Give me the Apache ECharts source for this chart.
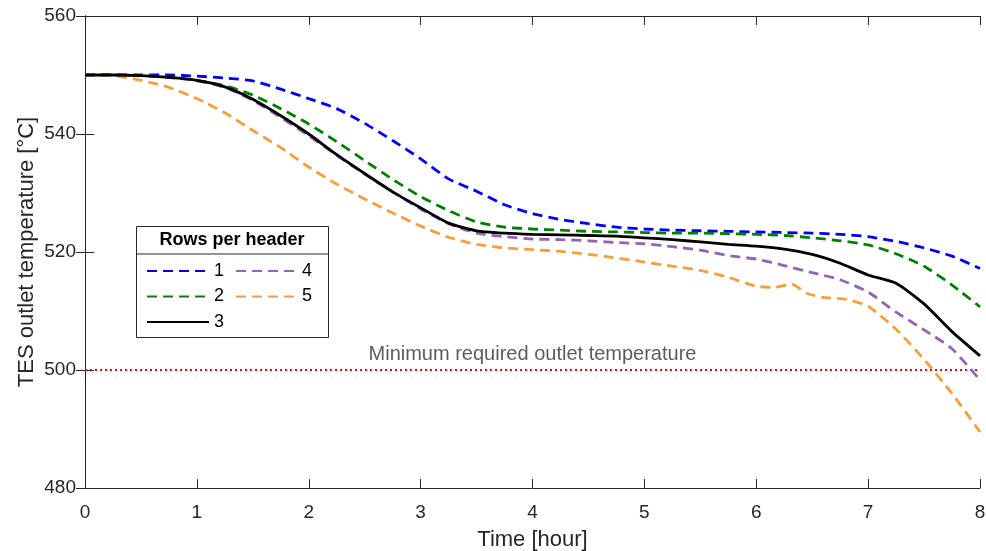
<!DOCTYPE html>
<html>
<head>
<meta charset="utf-8">
<script src="https://cdn.jsdelivr.net/npm/echarts@6/dist/echarts.min.js"></script>
<style>
html,body{margin:0;padding:0;background:#fff;}
#chart{width:986px;height:551px;}
</style>
</head>
<body>
<div id="chart"></div>
<script>
// ---- data ----
var time = [0,0.25,0.5,0.75,1,1.25,1.5,1.75,2,2.25,2.5,2.75,3,3.25,3.5,3.75,4,4.25,4.5,4.75,5,5.25,5.5,5.75,6,6.25,6.5,6.75,7,7.25,7.5,7.75,8];
var rows1 = [550,550,550,550,549.8,549.5,549.0,547.6,546.0,544.3,541.8,538.9,535.8,532.4,530.3,528.0,526.5,525.5,524.8,524.2,523.9,523.7,523.6,523.5,523.4,523.3,523.2,523.0,522.6,521.8,520.7,519.3,517.2];
var rows2 = [550,550,549.9,549.6,549.1,548.2,546.6,544.3,541.7,538.7,535.5,532.3,529.4,527.0,525.1,524.2,523.9,523.7,523.5,523.4,523.3,523.2,523.2,523.1,523.0,522.8,522.4,521.9,521.2,519.7,517.6,514.4,510.7];
var rows3 = [550,550,549.9,549.6,549.1,548.0,545.9,543.1,540.0,536.5,533.3,530.2,527.5,524.9,523.6,523.2,523.0,522.9,522.8,522.7,522.4,522.1,521.7,521.3,521.0,520.5,519.6,518.1,516.1,514.7,511.2,506.5,502.4];
var rows4 = [550,550,549.9,549.6,549.0,547.9,545.7,542.8,539.7,536.4,533.2,530.2,527.3,524.8,523.2,522.6,522.2,522.1,521.9,521.6,521.4,520.9,520.3,519.4,518.8,517.7,516.5,515.3,513.2,509.8,506.8,503.6,498.3];
var time5 = [0,0.25,0.5,0.75,1,1.25,1.5,1.75,2,2.25,2.5,2.75,3,3.25,3.5,3.75,4,4.25,4.5,4.75,5,5.25,5.5,5.75,6,6.15,6.32,6.45,6.6,6.8,7,7.25,7.5,7.75,8];
var rows5 = [550,549.9,549.1,547.9,546.0,543.6,540.6,537.7,534.4,531.5,529.0,526.6,524.4,522.5,521.3,520.7,520.4,520.1,519.6,519.0,518.3,517.6,516.9,515.7,514.2,514.0,514.5,513.0,512.3,512.0,510.8,506.9,501.8,496.0,489.5];
var seriesNames = ['1','2','3','4','5'];
var minTemp = 500;
var minLabel = 'Minimum required outlet temperature';
var legendTitle = 'Rows per header';
var xTicks = [0,1,2,3,4,5,6,7,8];
var yTicks = [480,500,520,540,560];

function pairs(t, v){ return t.map(function(x,i){ return [x, v[i]]; }); }

var font = 'Liberation Sans, Arial, Helvetica, sans-serif';
var axisColor = '#262626';
var colors = ['#0000ff','#008000','#000000','#9363b4','#f59e3c'];
var dataSets = [pairs(time,rows1), pairs(time,rows2), pairs(time,rows3), pairs(time,rows4), pairs(time5,rows5)];
var dash = [10,6];

var series = [];
series.push({
  type:'line', name:'min', data:[[xTicks[0],minTemp],[xTicks[xTicks.length-1],minTemp]],
  symbol:'none', silent:true, z:1,
  lineStyle:{color:'#ff0000', width:2, type:[2,3]}
});
series.push({
  type:'scatter', name:'minlabel', data:[[4,minTemp]], symbolSize:0, silent:true,
  label:{show:true, position:'top', distance:6, formatter:minLabel, fontFamily:font, fontSize:20, color:'#333333'}
});
var order = [0,1,3,4,2];
order.forEach(function(i){
  series.push({
    type:'line', name:seriesNames[i], data:dataSets[i], symbol:'none', showSymbol:false,
    smooth:0.2, z: i===2 ? 5 : 3,
    itemStyle:{color:colors[i]},
    lineStyle:{color:colors[i], width:2.8, type: i===2 ? 'solid' : dash}
  });
});

var chart = echarts.init(document.getElementById('chart'), null, {renderer:'canvas'});
var commonAxisLine = {show:true, lineStyle:{color:axisColor, width:1}};
var legendCommon = {
  orient:'vertical', top:262, itemHeight:14, itemGap:7.5, padding:0,
  textStyle:{fontFamily:font, fontSize:18, color:'#000'}, selectedMode:false,
  itemStyle:{color:'rgba(0,0,0,0)', borderWidth:0, opacity:0}
};
chart.setOption({
  animation:false,
  backgroundColor:'#ffffff',
  grid:{left:85, right:6, top:16, bottom:63, outerBoundsMode:'none', containLabel:false},
  xAxis:[{
    type:'value', min:xTicks[0], max:xTicks[xTicks.length-1], interval:1,
    name:'Time [hour]', nameLocation:'middle', nameGap:41, nameMoveOverlap:false,
    nameTextStyle:{fontFamily:font, fontSize:22, color:axisColor},
    axisLine:commonAxisLine,
    axisTick:{show:true, inside:true, length:9, lineStyle:{color:axisColor}},
    axisLabel:{fontFamily:font, fontSize:19, color:axisColor, margin:15},
    splitLine:{show:false}
  },{
    type:'value', position:'top', min:xTicks[0], max:xTicks[xTicks.length-1], interval:1,
    axisLine:commonAxisLine,
    axisTick:{show:true, inside:true, length:9, lineStyle:{color:axisColor}},
    axisLabel:{show:false}, splitLine:{show:false}
  }],
  yAxis:[{
    type:'value', min:yTicks[0], max:yTicks[yTicks.length-1], interval:20,
    name:'TES outlet temperature [°C]', nameLocation:'middle', nameGap:47, nameMoveOverlap:false,
    nameTextStyle:{fontFamily:font, fontSize:22, color:axisColor},
    axisLine:commonAxisLine,
    axisTick:{show:true, inside:true, length:9, lineStyle:{color:axisColor}},
    axisLabel:{fontFamily:font, fontSize:19, color:axisColor, margin:9},
    splitLine:{show:false}
  },{
    type:'value', position:'right', min:yTicks[0], max:yTicks[yTicks.length-1], interval:20,
    axisLine:commonAxisLine,
    axisTick:{show:true, inside:true, length:9, lineStyle:{color:axisColor}},
    axisLabel:{show:false}, splitLine:{show:false}
  }],
  legend:[
    Object.assign({data:[seriesNames[0],seriesNames[1],seriesNames[2]], left:146, itemWidth:62}, legendCommon),
    Object.assign({data:[seriesNames[3],seriesNames[4]], left:235, itemWidth:61}, legendCommon)
  ],
  graphic:[{
    type:'rect', left:136, top:226, z:0,
    shape:{width:192, height:111},
    style:{fill:'#ffffff', stroke:'#262626', lineWidth:1}
  },{
    type:'line', z:1,
    shape:{x1:136, y1:254, x2:328, y2:254},
    style:{stroke:'#262626', lineWidth:1}
  },{
    type:'text', z:2, x:232, y:240,
    style:{text:legendTitle, font:'bold 18px ' + font, fill:'#000', textAlign:'center', textVerticalAlign:'middle'}
  }],
  series:series
});
</script>
</body>
</html>
